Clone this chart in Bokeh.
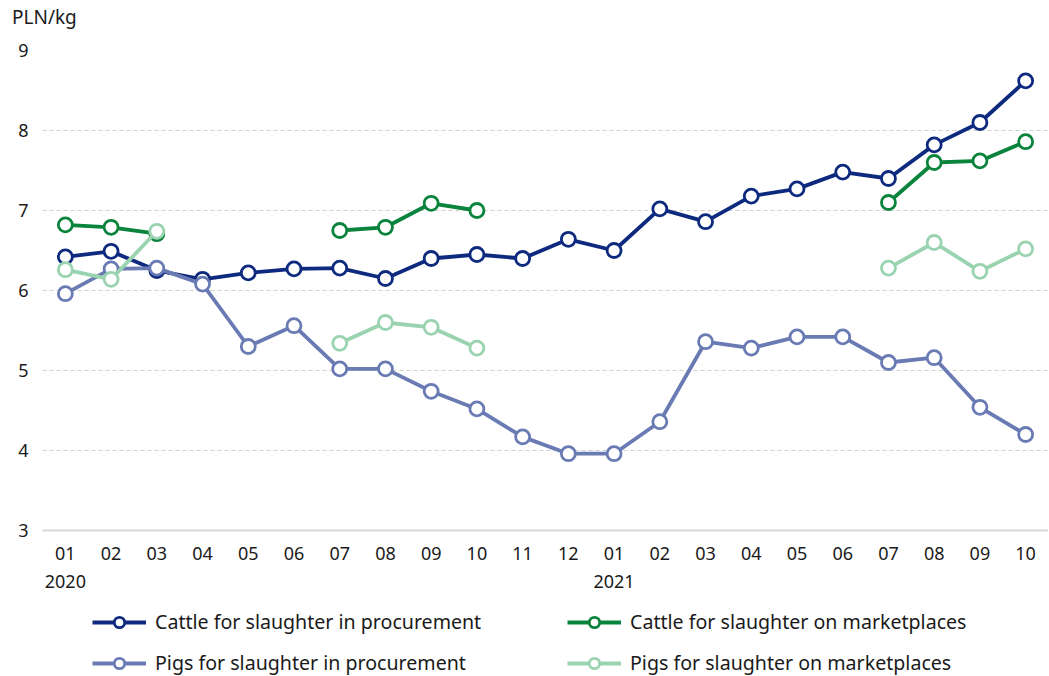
import numpy as np
from bokeh.plotting import figure
from bokeh.layouts import column
from bokeh.models import Range1d, FixedTicker, Legend, LegendItem, Div
from bokeh.embed import file_html
from bokeh.resources import INLINE

nan = np.nan

months = ["01", "02", "03", "04", "05", "06", "07", "08", "09", "10", "11", "12",
          "01", "02", "03", "04", "05", "06", "07", "08", "09", "10"]
years = {0: "2020", 12: "2021"}
unit_label = "PLN/kg"

cattle_proc = [6.42, 6.49, 6.25, 6.14, 6.22, 6.27, 6.28, 6.15, 6.40, 6.45, 6.40, 6.64,
               6.50, 7.02, 6.86, 7.18, 7.27, 7.48, 7.40, 7.82, 8.10, 8.62]
cattle_market = [6.82, 6.79, 6.71, nan, nan, nan, 6.75, 6.79, 7.09, 7.00, nan, nan,
                 nan, nan, nan, nan, nan, nan, 7.10, 7.60, 7.62, 7.86]
pigs_proc = [5.96, 6.27, 6.28, 6.08, 5.30, 5.56, 5.02, 5.02, 4.74, 4.52, 4.17, 3.96,
             3.96, 4.36, 5.36, 5.28, 5.42, 5.42, 5.10, 5.16, 4.54, 4.20]
pigs_market = [6.26, 6.14, 6.74, nan, nan, nan, 5.34, 5.60, 5.54, 5.28, nan, nan,
               nan, nan, nan, nan, nan, nan, 6.28, 6.60, 6.24, 6.52]

series = [
    ("Cattle for slaughter in procurement", cattle_proc, "#0d2a7e"),
    ("Cattle for slaughter on marketplaces", cattle_market, "#0a843c"),
    ("Pigs for slaughter in procurement", pigs_proc, "#6a7bb4"),
    ("Pigs for slaughter on marketplaces", pigs_market, "#99d3b0"),
]

FONT = "Noto Sans"
TXT = "#1a1a1a"
x = list(range(len(months)))


def blank(fig):
    fig.axis.visible = False
    fig.grid.visible = False
    fig.outline_line_color = None
    fig.background_fill_color = "white"
    fig.border_fill_color = "white"


# header with unit label
hdr = Div(text=unit_label, width=200, height=36, margin=(0, 0, 0, 0),
          styles={"font-family": FONT, "font-size": "19px", "color": TXT,
                  "padding-left": "12px", "padding-top": "6px", "line-height": "1.2",
                  "box-sizing": "border-box"})

p = figure(frame_width=1006, frame_height=480, x_range=Range1d(-0.5, len(months) - 0.5),
           y_range=Range1d(3, 9), output_backend="svg", toolbar_location=None,
           min_border_left=42, min_border_right=0, min_border_top=14,
           min_border_bottom=70)
p.outline_line_color = None
p.background_fill_color = "white"
p.border_fill_color = "white"

for name, vals, col in series:
    p.line(x, vals, line_color=col, line_width=3.8)
    p.scatter(x, vals, size=14, fill_color="white", line_color=col, line_width=2.8)

labels = {i: (m + "\n" + years[i] if i in years else m) for i, m in enumerate(months)}
p.xaxis.ticker = FixedTicker(ticks=x)
p.xaxis.major_label_overrides = labels
p.xaxis.axis_line_color = "#d9d9d9"
p.xaxis.axis_line_width = 2
p.xaxis.major_tick_line_color = None
p.xaxis.minor_tick_line_color = None
p.xaxis.major_label_text_font = FONT
p.xaxis.major_label_text_font_size = "18px"
p.xaxis.major_label_text_color = TXT
p.xaxis.major_label_standoff = 4

p.yaxis.ticker = FixedTicker(ticks=[3, 4, 5, 6, 7, 8, 9])
p.yaxis.axis_line_color = None
p.yaxis.major_tick_line_color = None
p.yaxis.minor_tick_line_color = None
p.yaxis.major_label_text_font = FONT
p.yaxis.major_label_text_font_size = "18px"
p.yaxis.major_label_text_color = TXT
p.yaxis.major_label_standoff = 8

p.xgrid.grid_line_color = None
p.ygrid.ticker = FixedTicker(ticks=[4, 5, 6, 7, 8, 9])
p.ygrid.grid_line_color = "#cfcfcf"
p.ygrid.grid_line_dash = "4 3"
p.ygrid.grid_line_width = 1

# legend panel
lg = figure(frame_width=1006, frame_height=76, x_range=Range1d(0, 1), y_range=Range1d(0, 1),
            output_backend="svg", toolbar_location=None, min_border_left=42,
            min_border_right=0, min_border_top=0, min_border_bottom=0)
blank(lg)

rends = {}
for name, vals, col in series:
    l = lg.line([5, 6], [5, 6], line_color=col, line_width=3.8)
    s = lg.scatter([5], [5], size=14, fill_color="white", line_color=col, line_width=2.8)
    rends[name] = [l, s]

order = [series[0][0], series[2][0], series[1][0], series[3][0]]
items = [LegendItem(label=n, renderers=rends[n]) for n in order]
legend = Legend(items=items, orientation="vertical", nrows=2, location=(50, 0),
                glyph_width=54, glyph_height=26, label_height=26, label_width=398,
                label_standoff=9, spacing=14, padding=0, margin=0,
                border_line_color=None, background_fill_alpha=0,
                label_text_font=FONT, label_text_font_size="19.6px",
                label_text_color=TXT)
lg.add_layout(legend)

layout = column(hdr, p, lg, spacing=0)
open("out.html", "w").write(file_html(layout, INLINE))
